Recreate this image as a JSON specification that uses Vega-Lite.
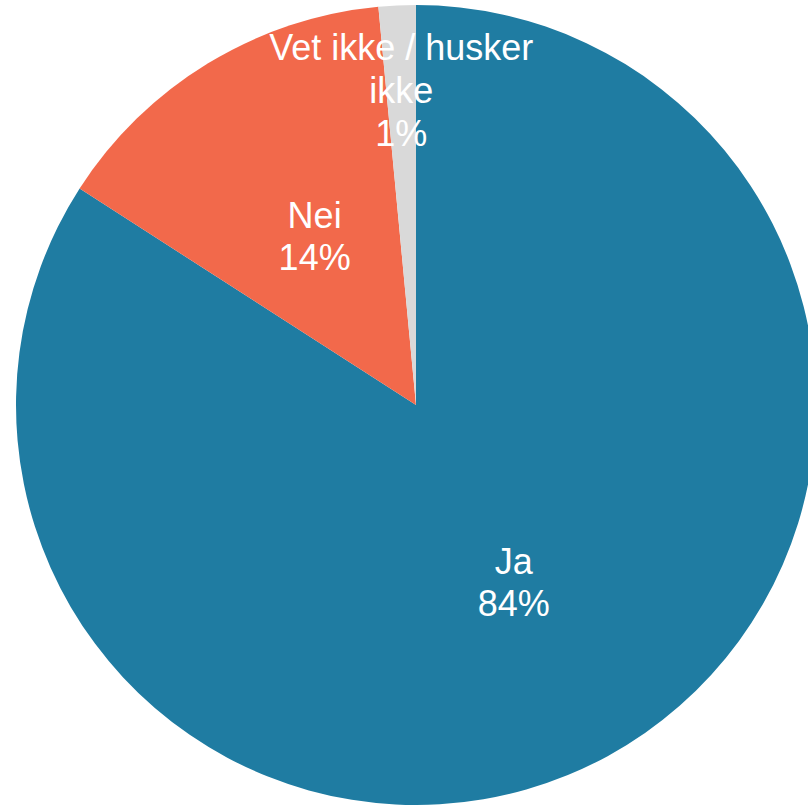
{
  "$schema": "https://vega.github.io/schema/vega-lite/v6.json",
  "width": 784,
  "height": 800,
  "padding": {"left": 24, "top": 5, "right": 0, "bottom": 0},
  "autosize": {"type": "none"},
  "background": "white",
  "view": {"stroke": null},
  "data": {
    "values": [
      {"category": "Ja", "value": 84.1, "label": "Ja\n84%"},
      {"category": "Nei", "value": 14.4, "label": "Nei\n14%"},
      {"category": "Vet ikke / husker ikke", "value": 1.5, "label": "Vet ikke / husker\nikke\n1%"}
    ]
  },
  "encoding": {
    "theta": {"field": "value", "type": "quantitative", "stack": true}
  },
  "layer": [
    {
      "mark": {"type": "arc", "outerRadius": 400},
      "encoding": {
        "color": {
          "field": "category",
          "type": "nominal",
          "scale": {"domain": ["Ja", "Nei", "Vet ikke / husker ikke"], "range": ["#1f7ca2", "#f2694b", "#d9d9d9"]},
          "legend": null
        }
      }
    },
    {
      "mark": {"type": "text", "radius": 204, "dy": -21, "fontSize": 36, "lineHeight": 42, "font": "Liberation Sans", "color": "white", "lineBreak": "\n", "align": "center", "baseline": "middle"},
      "encoding": {
        "detail": {"field": "category", "type": "nominal"},
        "text": {"field": "label", "type": "nominal"},
        "opacity": {"condition": {"test": "datum.category == 'Ja'", "value": 1}, "value": 0}
      }
    },
    {
      "mark": {"type": "text", "radius": 195, "dy": -21, "fontSize": 36, "lineHeight": 42, "font": "Liberation Sans", "color": "white", "lineBreak": "\n", "align": "center", "baseline": "middle"},
      "encoding": {
        "detail": {"field": "category", "type": "nominal"},
        "text": {"field": "label", "type": "nominal"},
        "opacity": {"condition": {"test": "datum.category == 'Nei'", "value": 1}, "value": 0}
      }
    },
    {
      "mark": {"type": "text", "radius": 313, "dy": -43, "fontSize": 36, "lineHeight": 43, "font": "Liberation Sans", "color": "white", "lineBreak": "\n", "align": "center", "baseline": "middle"},
      "encoding": {
        "detail": {"field": "category", "type": "nominal"},
        "text": {"field": "label", "type": "nominal"},
        "opacity": {"condition": {"test": "datum.category == 'Vet ikke / husker ikke'", "value": 1}, "value": 0}
      }
    }
  ]
}
